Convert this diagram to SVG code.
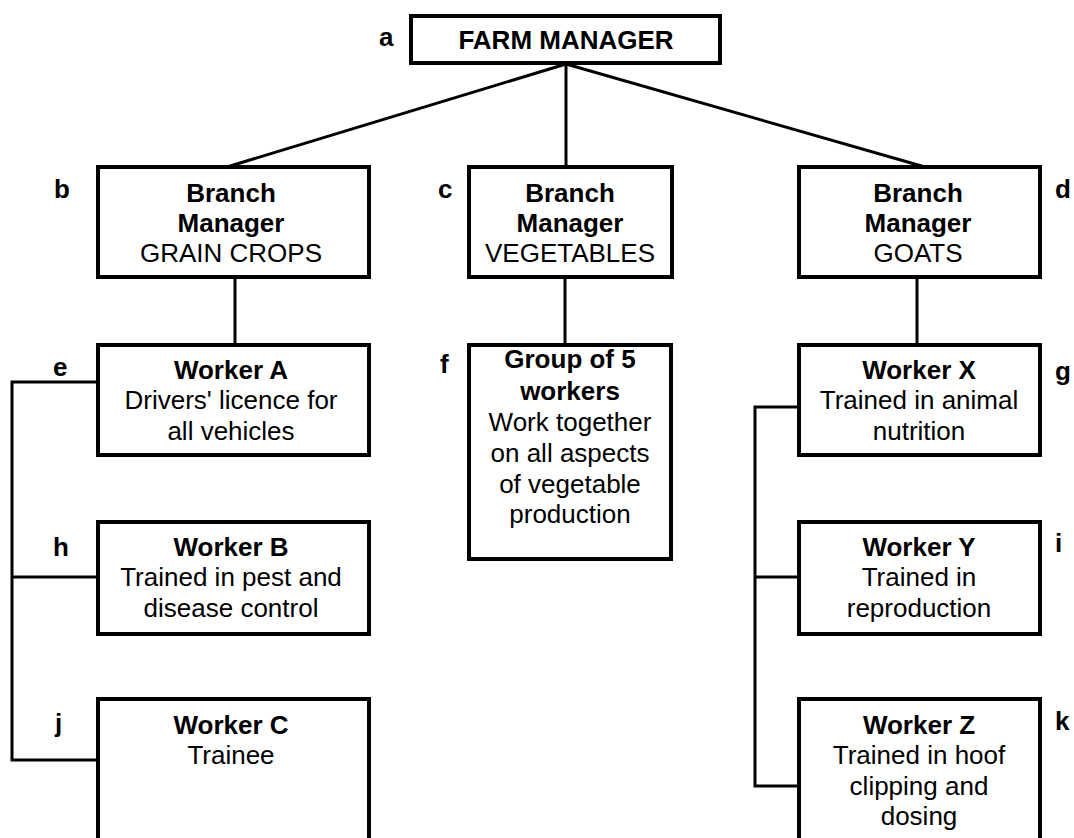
<svg xmlns="http://www.w3.org/2000/svg" width="1074" height="838" viewBox="0 0 1074 838">
<style>
  .box { fill: #fff; stroke: #000; stroke-width: 4; }
  .open { fill: none; stroke: #000; stroke-width: 4; }
  .conn { fill: none; stroke: #000; stroke-width: 3; }
  text { font-family: "Liberation Sans", Arial, sans-serif; font-size: 26px; fill: #000; }
  .t { text-anchor: middle; }
  .b { font-weight: bold; }
  .lbl { font-weight: bold; }
</style>
<rect width="1074" height="838" fill="#fff"/>
<g id="connectors">
  <line class="conn" x1="566" y1="64" x2="227" y2="167"/>
  <line class="conn" x1="566" y1="64" x2="566" y2="167"/>
  <line class="conn" x1="566" y1="64" x2="925" y2="167"/>
  <line class="conn" x1="235" y1="277" x2="235" y2="345"/>
  <line class="conn" x1="565" y1="277" x2="565" y2="345"/>
  <line class="conn" x1="917" y1="277" x2="917" y2="345"/>
  <polyline class="conn" points="98,382 12,382 12,760 98,760"/>
  <line class="conn" x1="12" y1="577" x2="98" y2="577"/>
  <polyline class="conn" points="799,407 755,407 755,786 799,786"/>
  <line class="conn" x1="755" y1="577" x2="799" y2="577"/>
</g>
<g id="node-a">
  <rect class="box" x="411" y="16" width="309" height="47"/>
  <text class="t b" x="566" y="49">FARM MANAGER</text>
  <text class="lbl" x="379" y="46">a</text>
</g>
<g id="node-b">
  <rect class="box" x="98" y="167" width="271" height="110"/>
  <text class="t b" x="231" y="202">Branch</text>
  <text class="t b" x="231" y="232">Manager</text>
  <text class="t" x="231" y="262">GRAIN CROPS</text>
  <text class="lbl" x="54" y="198">b</text>
</g>
<g id="node-c">
  <rect class="box" x="469" y="167" width="203" height="110"/>
  <text class="t b" x="570" y="202">Branch</text>
  <text class="t b" x="570" y="232">Manager</text>
  <text class="t" x="570" y="262">VEGETABLES</text>
  <text class="lbl" x="438" y="198">c</text>
</g>
<g id="node-d">
  <rect class="box" x="799" y="167" width="241" height="110"/>
  <text class="t b" x="918" y="202">Branch</text>
  <text class="t b" x="918" y="232">Manager</text>
  <text class="t" x="918" y="262">GOATS</text>
  <text class="lbl" x="1055" y="198">d</text>
</g>
<g id="node-e">
  <rect class="box" x="98" y="345" width="271" height="110"/>
  <text class="t b" x="231" y="379">Worker A</text>
  <text class="t" x="231" y="409">Drivers' licence for</text>
  <text class="t" x="231" y="440">all vehicles</text>
  <text class="lbl" x="53" y="376">e</text>
</g>
<g id="node-f">
  <rect class="box" x="469" y="345" width="202" height="214"/>
  <text class="t b" x="570" y="368">Group of 5</text>
  <text class="t b" x="570" y="400">workers</text>
  <text class="t" x="570" y="431">Work together</text>
  <text class="t" x="570" y="462">on all aspects</text>
  <text class="t" x="570" y="493">of vegetable</text>
  <text class="t" x="570" y="523">production</text>
  <text class="lbl" x="440" y="373">f</text>
</g>
<g id="node-g">
  <rect class="box" x="799" y="345" width="241" height="110"/>
  <text class="t b" x="919" y="379">Worker X</text>
  <text class="t" x="919" y="409">Trained in animal</text>
  <text class="t" x="919" y="440">nutrition</text>
  <text class="lbl" x="1055" y="380">g</text>
</g>
<g id="node-h">
  <rect class="box" x="98" y="522" width="271" height="112"/>
  <text class="t b" x="231" y="556">Worker B</text>
  <text class="t" x="231" y="586">Trained in pest and</text>
  <text class="t" x="231" y="617">disease control</text>
  <text class="lbl" x="53" y="556">h</text>
</g>
<g id="node-i">
  <rect class="box" x="799" y="522" width="241" height="112"/>
  <text class="t b" x="919" y="556">Worker Y</text>
  <text class="t" x="919" y="586">Trained in</text>
  <text class="t" x="919" y="617">reproduction</text>
  <text class="lbl" x="1055" y="552">i</text>
</g>
<g id="node-j">
  <path class="open" d="M98,840 V699 H369 V840"/>
  <text class="t b" x="231" y="734">Worker C</text>
  <text class="t" x="231" y="764">Trainee</text>
  <text class="lbl" x="55" y="732">j</text>
</g>
<g id="node-k">
  <path class="open" d="M799,840 V699 H1040 V840"/>
  <text class="t b" x="919" y="734">Worker Z</text>
  <text class="t" x="919" y="764">Trained in hoof</text>
  <text class="t" x="919" y="795">clipping and</text>
  <text class="t" x="919" y="825">dosing</text>
  <text class="lbl" x="1055" y="730">k</text>
</g>
</svg>
